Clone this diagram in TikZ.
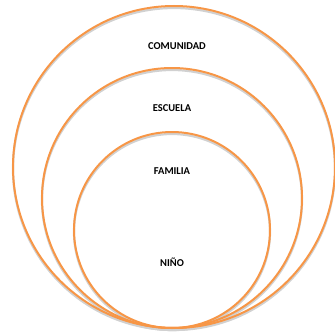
\documentclass[tikz,border=0pt]{standalone}
\usepackage{fontspec}
\setmainfont{Carlito}
\definecolor{ringorange}{HTML}{F79646}
\begin{document}
\begin{tikzpicture}[x=1pt,y=-1pt,
  ring/.style={circle,draw=ringorange,line width=2pt,inner sep=0pt,fill=none},
  ringshadow/.style={circle,draw=black!18,line width=2.2pt,inner sep=0pt},
  lbl/.style={font=\fontsize{10.5}{11}\selectfont\bfseries,text=black,inner sep=0pt}]
\useasboundingbox (0,0) rectangle (335,332);
% soft shadows
\node[ringshadow,minimum size=322pt] at (174,169) {};
\node[ringshadow,minimum size=260pt] at (172,200) {};
\node[ringshadow,minimum size=196pt] at (172,232) {};
% rings
\node[ring,minimum size=322pt] (comunidadring) at (174,167) {};
\node[ring,minimum size=260pt] (escuelaring) at (172,198) {};
\node[ring,minimum size=196pt] (familiaring) at (172,230) {};
% labels
\node[lbl] (comunidad) at (177,46) {COMUNIDAD};
\node[lbl] (escuela) at (172,108) {ESCUELA};
\node[lbl] (familia) at (172,171) {FAMILIA};
\node[lbl] (nino) at (172,262) {NIÑO};
\end{tikzpicture}
\end{document}
